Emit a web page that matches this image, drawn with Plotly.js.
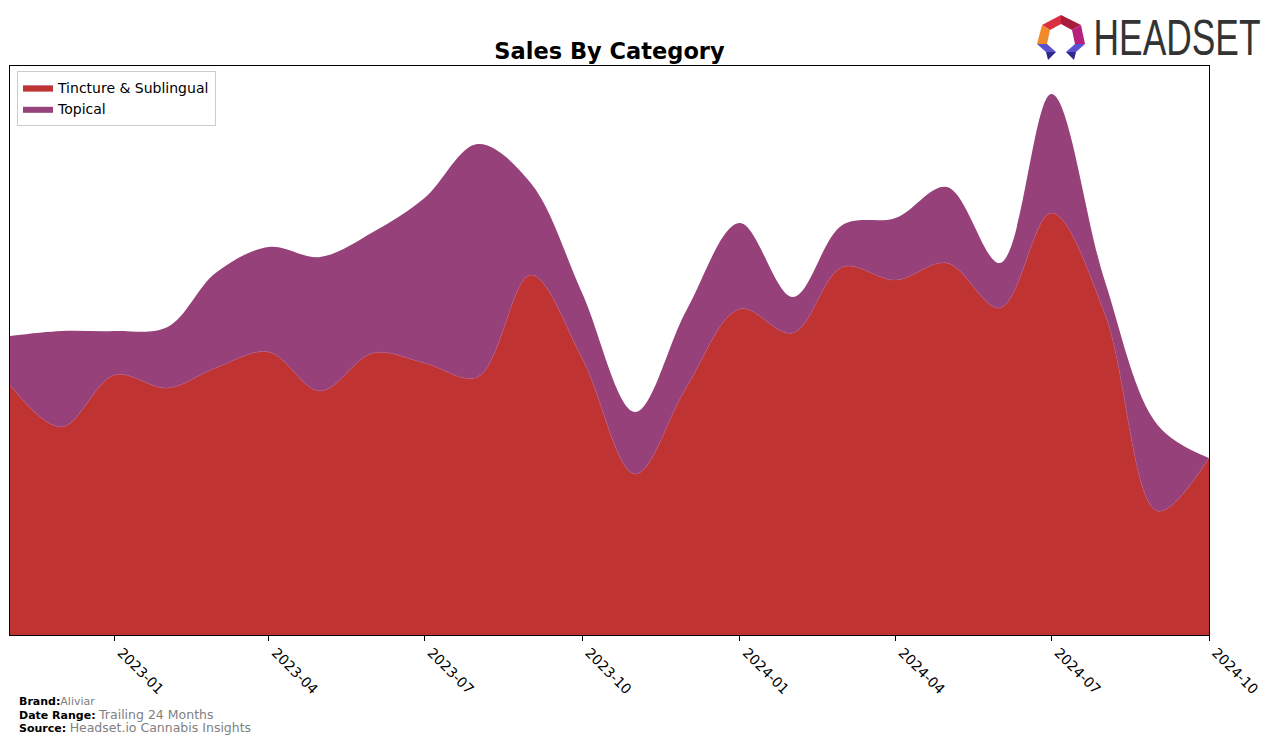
<!DOCTYPE html>
<html>
<head>
<meta charset="utf-8">
<script src="https://cdn.plot.ly/plotly-3.0.1.min.js"></script>
<style>
html,body{margin:0;padding:0;background:#fff;}
#chart{width:1276px;height:744px;}
</style>
</head>
<body>
<div id="chart"></div>
<script>
const months = ["2022-11-01","2022-12-01","2023-01-01","2023-02-01","2023-03-01","2023-04-01","2023-05-01","2023-06-01","2023-07-01","2023-08-01","2023-09-01","2023-10-01","2023-11-01","2023-12-01","2024-01-01","2024-02-01","2024-03-01","2024-04-01","2024-05-01","2024-06-01","2024-07-01","2024-08-01","2024-09-01","2024-10-01"];
const tinctureSublingual = [250,208,260,247,267,283,244,282,272,258,360,277,161,248,326,302,368,355,372,327,422,322,124,177];
const topical = [49,96,44,61,95,105,134,121,165,233,92,65,62,77,86,36,42,62,76,45,119,33,86,0];
const seriesNames = ["Tincture & Sublingual","Topical"];
const seriesColors = ["#c03333","#96417a"];
const tickLabelsStart = "2023-01-01";

const W = 1276, H = 744;
const L = 10, R = 1209, T = 66, B = 635;
const px2x = p => (p - L) / (R - L);
const px2y = p => (B - p) / (B - T);

function poly(pts, color){
  let d = pts.map((p,i)=> (i?"L":"M") + px2x(p[0]).toFixed(5) + "," + px2y(p[1]).toFixed(5)).join(" ") + " Z";
  return {type:"path", xref:"paper", yref:"paper", path:d, fillcolor:color, line:{width:0}, layer:"above"};
}
const logoShapes = [
  poly([[1042,25],[1061,15],[1061,24],[1050,30]], "#d93040"),
  poly([[1061,15],[1081,25],[1072,30],[1061,24]], "#a81c3c"),
  poly([[1081,25],[1085,44],[1075,44],[1072,30]], "#b8207e"),
  poly([[1042,25],[1037,44],[1047,44],[1050,30]], "#f28a2a"),
  poly([[1037,44],[1047,44],[1056,52],[1046,52]], "#5a52d0"),
  poly([[1046,52],[1056,52],[1048,60]], "#2e2a8c"),
  poly([[1085,44],[1075,44],[1066,52],[1076,52]], "#5a52d0"),
  poly([[1076,52],[1066,52],[1074,60]], "#2e2a8c")
];

const traces = [
  {x: months, y: tinctureSublingual, name: seriesNames[0], type:"scatter", mode:"lines",
   stackgroup:"one", line:{shape:"spline", smoothing:1, width:0.6, color:"#b4507e"}, fillcolor:seriesColors[0]},
  {x: months, y: topical, name: seriesNames[1], type:"scatter", mode:"lines",
   stackgroup:"one", line:{shape:"spline", smoothing:1, width:0, color:seriesColors[1]}, fillcolor:seriesColors[1]}
];

const layout = {
  width: W, height: H,
  margin: {l: L, r: W - R, t: T, b: H - B, pad: 0},
  paper_bgcolor:"#ffffff", plot_bgcolor:"#ffffff",
  font: {family:"DejaVu Sans", size:13, color:"#000"},
  title: {text:"<b>Sales By Category</b>", font:{family:"DejaVu Sans", size:22.5, color:"#000"},
          x:(L+R)/2/W, xanchor:"center", xref:"container", y:1-51/H, yanchor:"middle", yref:"container"},
  showlegend: true,
  legend: {x: px2x(17), y: px2y(71), xanchor:"left", yanchor:"top", bgcolor:"rgba(255,255,255,0.8)",
           bordercolor:"#cccccc", borderwidth:1, traceorder:"normal", tracegroupgap:0,
           font:{size:14, family:"DejaVu Sans"}},
  xaxis: {type:"date", range:["2022-11-01","2024-10-01"], tick0:tickLabelsStart, dtick:"M3", tickformat:"%Y-%m",
          tickangle:45, ticks:"outside", ticklen:5, tickcolor:"#000", showline:true, linecolor:"#000", linewidth:1,
          ticklabelshift:7, ticklabelstandoff:-2, mirror:true, showgrid:false, zeroline:false,
          tickfont:{size:14, family:"DejaVu Sans", color:"#000"}},
  yaxis: {range:[0, 569], showticklabels:false, ticks:"", showline:true, linecolor:"#000", linewidth:1,
          mirror:true, showgrid:false, zeroline:false},
  shapes: logoShapes,
  annotations: [
    {xref:"paper", yref:"paper", x:px2x(1176.5), y:px2y(38), xanchor:"center", yanchor:"middle", showarrow:false,
     text:"HEADSET", font:{family:"Liberation Sans", size:36, color:"#333333"}},
    {xref:"paper", yref:"paper", x:px2x(17), y:px2y(701), xanchor:"left", yanchor:"middle", showarrow:false,
     text:"<b>Brand:</b><span style='color:#808080'>Aliviar</span>", font:{family:"DejaVu Sans", size:11, color:"#000"}},
    {xref:"paper", yref:"paper", x:px2x(17), y:px2y(714), xanchor:"left", yanchor:"middle", showarrow:false,
     text:"<b>Date Range:</b> <span style='color:#808080;font-size:12.5px'>Trailing 24 Months</span>", font:{family:"DejaVu Sans", size:11, color:"#000"}},
    {xref:"paper", yref:"paper", x:px2x(17), y:px2y(727), xanchor:"left", yanchor:"middle", showarrow:false,
     text:"<b>Source:</b> <span style='color:#808080;font-size:12.5px'>Headset.io Cannabis Insights</span>", font:{family:"DejaVu Sans", size:11, color:"#000"}}
  ]
};

Plotly.newPlot("chart", traces, layout, {displayModeBar:false, staticPlot:true}).then(gd => {
  gd.querySelectorAll("text.annotation-text").forEach(t => {
    if (t.textContent === "HEADSET") {
      t.setAttribute("textLength", "167");
      t.setAttribute("lengthAdjust", "spacingAndGlyphs");
      const bb = t.getBBox();
      const cy = bb.y + bb.height / 2;
      t.setAttribute("transform", "translate(0," + cy + ") scale(1,1.39) translate(0," + (-cy) + ")");
    }
  });
});
</script>
</body>
</html>
